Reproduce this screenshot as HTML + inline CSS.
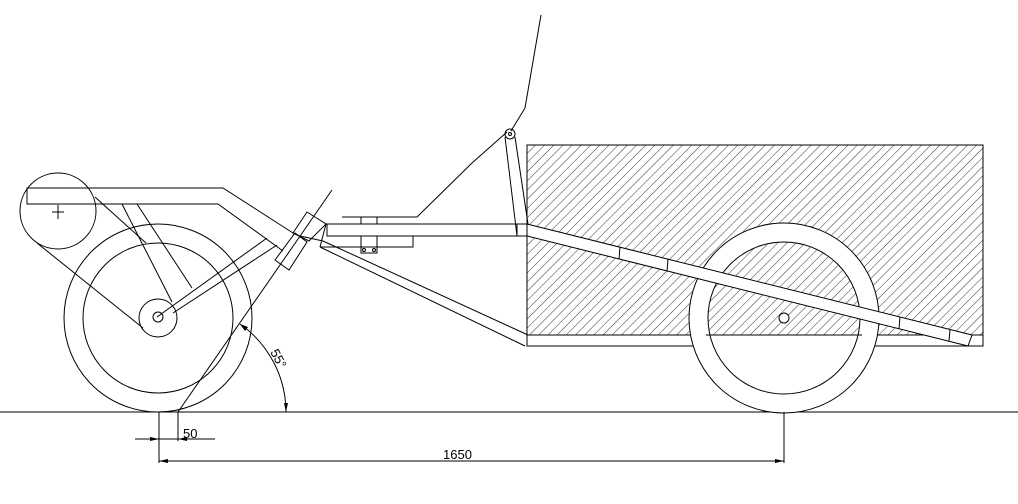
<!DOCTYPE html>
<html><head><meta charset="utf-8"><style>
html,body{margin:0;padding:0;background:#fff;}
svg{display:block;}
text{font-family:"Liberation Sans",sans-serif;fill:#000;}
</style></head><body>
<svg width="1018" height="504" viewBox="0 0 1018 504" xmlns="http://www.w3.org/2000/svg">
<defs>
<pattern id="h" patternUnits="userSpaceOnUse" width="6.5" height="6.5" patternTransform="rotate(45)">
<line x1="0" y1="0" x2="0" y2="6.5" stroke="#000" stroke-width="0.8"/>
</pattern>
<clipPath id="ic"><circle cx="784" cy="318" r="76"/></clipPath>
</defs>
<g fill="none" stroke="#000" stroke-width="1">
<line x1="0" y1="412" x2="1018" y2="412"/>
<rect x="527" y="145" width="456" height="190" fill="url(#h)"/>
<rect x="527" y="335" width="456" height="11" fill="#fff"/>
<circle cx="784" cy="318" r="95" fill="#fff"/>
<circle cx="784" cy="318" r="76" fill="#fff"/>
<rect x="527" y="145" width="456" height="190" fill="url(#h)" stroke="none" clip-path="url(#ic)"/>
<line x1="706" y1="335" x2="862" y2="335"/>
<circle cx="784" cy="318" r="5" fill="#fff"/>
<polygon points="527,224 972,335 968,346 527,236" fill="#fff"/>
<line x1="620" y1="247" x2="619" y2="259"/>
<line x1="668" y1="259" x2="667" y2="271"/>
<line x1="900" y1="317" x2="899" y2="329"/>
<line x1="950" y1="330" x2="949" y2="341"/>
<circle cx="158" cy="318" r="94"/>
<circle cx="158" cy="318" r="75"/>
<circle cx="158" cy="318" r="19"/>
<circle cx="158" cy="317" r="5"/>
<circle cx="58" cy="211" r="38"/>
<line x1="52" y1="212" x2="64" y2="212"/>
<line x1="58" y1="205" x2="58" y2="219"/>
<line x1="37" y1="243" x2="143" y2="328"/>
<line x1="95" y1="197" x2="146" y2="243"/>
<polyline points="283,251 218,204 27,204 27,188 223,188 293,233"/>
<line x1="122" y1="204" x2="172" y2="302"/>
<line x1="137" y1="204" x2="192" y2="288"/>
<line x1="157" y1="317" x2="267" y2="238"/>
<line x1="173" y1="313" x2="277" y2="245"/>
<polygon points="275,260 295,233 307,242 289,270"/>
<polygon points="293,233 307,212 326,224 309,241"/>
<line x1="326" y1="224" x2="320" y2="247"/>
<line x1="178" y1="412" x2="332" y2="190"/>
<line x1="300" y1="236" x2="323" y2="241"/>
<line x1="323" y1="241" x2="528" y2="335"/>
<line x1="320" y1="247" x2="525" y2="346"/>
<rect x="327" y="224" width="200" height="12" fill="#fff"/>
<line x1="517" y1="224" x2="517" y2="236"/>
<polyline points="320,247 413,247 413,236"/>
<line x1="342" y1="217" x2="417" y2="217"/>
<line x1="361" y1="217" x2="361" y2="224"/>
<line x1="377" y1="217" x2="377" y2="224"/>
<polyline points="361,236 361,253 377,253 377,236"/>
<circle cx="364" cy="250" r="1.5"/>
<circle cx="374" cy="250" r="1.5"/>
<polyline points="417,217 472,163 507,132"/>
<polyline points="511,131 525,108 541,15"/>
<circle cx="510" cy="134" r="5"/>
<circle cx="510" cy="134" r="1.5"/>
<line x1="505" y1="137" x2="517" y2="236"/>
<line x1="515" y1="137" x2="528" y2="224"/>
<path d="M240,324 A108,108 0 0 1 286,412"/>
<line x1="159" y1="412" x2="159" y2="463"/>
<line x1="178" y1="412" x2="178" y2="441"/>
<line x1="135" y1="439" x2="215" y2="439"/>
<line x1="159" y1="461" x2="784" y2="461"/>
<line x1="784" y1="412" x2="784" y2="463"/>
</g>
<g fill="#000">
<polygon points="159,439 150,437 150,441"/>
<polygon points="178,439 187,437 187,441"/>
<polygon points="159,461 168,459 168,463"/>
<polygon points="784,461 775,459 775,463"/>
<polygon points="240,324 248,327 245,331"/>
<polygon points="286,412 284,403 288,403"/>
</g>
<text x="183" y="438" font-size="13">50</text>
<text x="443" y="459" font-size="13">1650</text>
<text x="0" y="0" font-size="13" transform="translate(270,352) rotate(62)">55°</text>
</svg>
</body></html>
